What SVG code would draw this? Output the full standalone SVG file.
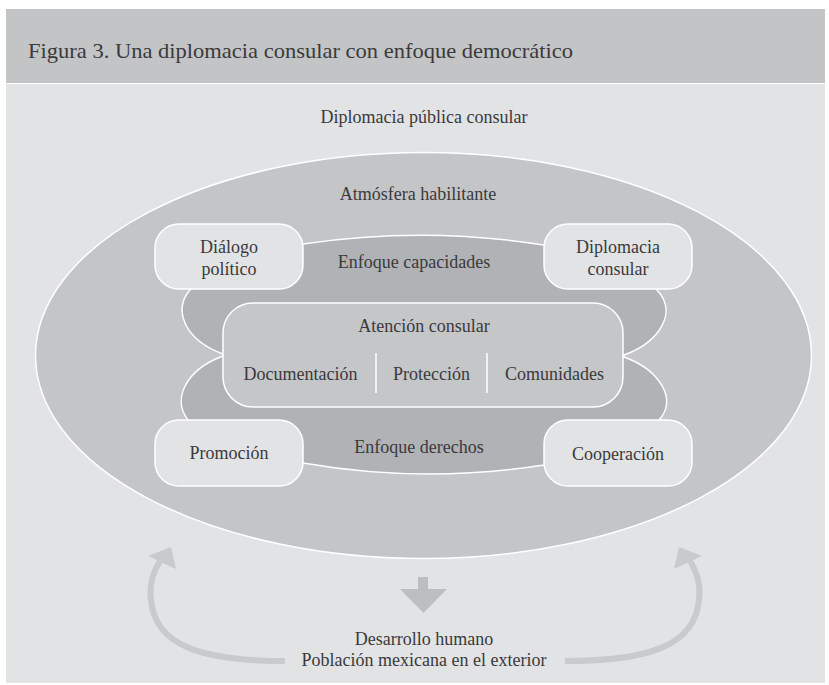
<svg xmlns="http://www.w3.org/2000/svg" width="829" height="685" viewBox="0 0 829 685">
<defs>
<style>
text{font-family:'Liberation Serif','Times New Roman','DejaVu Serif',serif}
.t{fill:#3a3a3b;text-anchor:middle;font-size:18px}
.box{fill:#e2e3e5;stroke:#ffffff;stroke-width:1.5}
.arc{fill:none;stroke:#c9cacc;stroke-width:6;stroke-linecap:butt}
.head{fill:#c9cacc}
</style>
</defs>
<rect x="0" y="0" width="829" height="685" fill="#ffffff"/>
<rect x="6" y="9" width="819" height="74" fill="#c3c4c6"/>
<rect x="6" y="84" width="819" height="599" fill="#e2e3e5"/>
<g font-family="Liberation Serif, serif">
<text x="28" y="58" class="t" style="text-anchor:start;font-size:22px" textLength="545" lengthAdjust="spacingAndGlyphs">Figura 3. Una diplomacia consular con enfoque democrático</text>
<text x="424" y="123" class="t">Diplomacia pública consular</text>

<g id="atmosfera">
<ellipse cx="423.5" cy="355.5" rx="388" ry="203" fill="#c4c5c7" stroke="#ffffff" stroke-width="1.5"/>
<text x="418" y="200" class="t">Atmósfera habilitante</text>
</g>

<g id="enfoques">
<path d="M229 256 L303 244 Q424 226 544 245 L618 256 L657 290 C678 312 660 342 624 355 L624 357 C660 370 678 400 659 420 L618 450 L544 465 Q424 484 303 463 L229 450 L188 420 C172 400 185 370 223 356 L223 354 C185 340 172 310 190 290 Z" fill="#b1b2b5" stroke="#ffffff" stroke-width="1.5"/>
<text x="414" y="268" class="t">Enfoque capacidades</text>
<text x="419" y="453" class="t">Enfoque derechos</text>
</g>

<g id="atencion">
<rect x="223" y="303" width="400" height="104" rx="30" fill="#c5c6c8" stroke="#ffffff" stroke-width="1.5"/>
<text x="424" y="332" class="t">Atención consular</text>
<line x1="376" y1="353" x2="376" y2="393" stroke="#ffffff" stroke-width="1.5"/>
<line x1="487" y1="353" x2="487" y2="393" stroke="#ffffff" stroke-width="1.5"/>
<text x="300.5" y="380" class="t">Documentación</text>
<text x="431.5" y="380" class="t">Protección</text>
<text x="554.5" y="380" class="t">Comunidades</text>
</g>

<g id="dialogo">
<rect x="155" y="224" width="148" height="65" rx="24" class="box"/>
<text x="229" y="253" class="t">Diálogo</text>
<text x="229" y="275" class="t">político</text>
</g>
<g id="diplomacia">
<rect x="544" y="224" width="148" height="65" rx="24" class="box"/>
<text x="618" y="253" class="t">Diplomacia</text>
<text x="618" y="275" class="t">consular</text>
</g>
<g id="promocion">
<rect x="155" y="420" width="148" height="66" rx="24" class="box"/>
<text x="229" y="459" class="t">Promoción</text>
</g>
<g id="cooperacion">
<rect x="544" y="420" width="148" height="66" rx="24" class="box"/>
<text x="618" y="460" class="t">Cooperación</text>
</g>

<g id="connectors">
<path d="M418 577 L428 577 L428 589 L447 589 L423.5 613 L400 589 L418 589 Z" fill="#bdbec0"/>
<path class="arc" d="M285 661 C200 661 155 645 151 600 C149 585 153 572 160 561"/>
<polygon class="head" points="171,547 148,556 176,569"/>
<path class="arc" d="M565 661 C650 661 695 645 699 600 C701 585 697 572 690 561"/>
<polygon class="head" points="679,547 702,556 674,569"/>
</g>

<g id="desarrollo">
<text x="424" y="645" class="t">Desarrollo humano</text>
<text x="424" y="666" class="t">Población mexicana en el exterior</text>
</g>
</g>
</svg>
